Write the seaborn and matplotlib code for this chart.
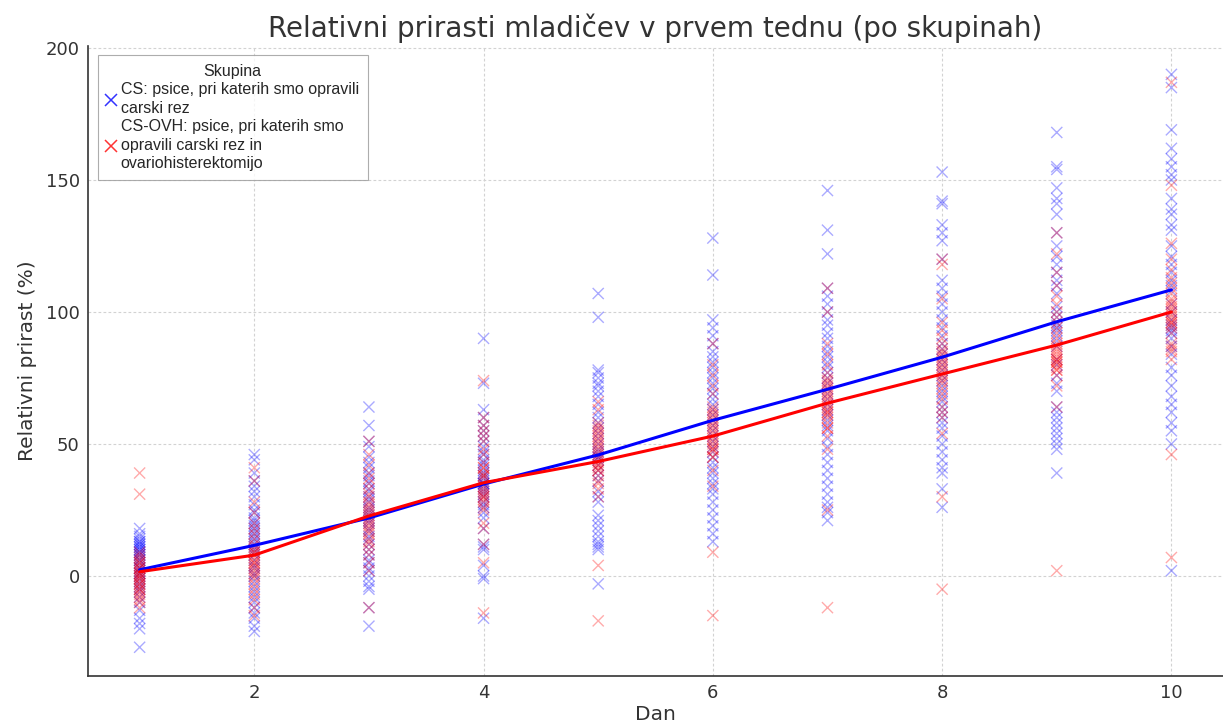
import matplotlib
matplotlib.use("Agg")
import matplotlib.pyplot as plt
from matplotlib.lines import Line2D
import seaborn as sns
import pandas as pd

# Relative weight gain (%) per day, group CS
cs_d1 = [18, 16, 15, 14, 13, 13, 12, 12, 11, 11, 10, 10, 9, 9, 8, 8, 7, 6, 6, 5,
         4, 3, 3, 2, 1, 1, 0, -1, -2, -3, -4, -5, -6, -8, -10, -13, -16, -18, -20, -27]
cs_d2 = [46, 44, 39, 36, 34, 32, 30, 27, 25, 24, 22, 21, 20, 19, 18, 17, 16, 15, 14, 13,
         12, 11, 10, 9, 8, 6, 4, 3, 1, 0, -2, -4, -6, -8, -10, -12, -14, -16, -19, -21]
cs_d3 = [64, 57, 51, 49, 45, 43, 41, 39, 38, 36, 35, 33, 32, 30, 29, 28, 26, 25, 24, 23,
         22, 21, 20, 18, 17, 15, 14, 12, 10, 8, 6, 5, 3, 2, 0, -2, -4, -5, -12, -19]
cs_d4 = [90, 73, 63, 60, 57, 55, 53, 51, 49, 47, 46, 44, 43, 42, 40, 39, 38, 37, 36, 35,
         35, 35, 34, 33, 32, 31, 30, 28, 27, 26, 24, 22, 18, 12, 10, 11, 4, 0, -1, -16]
cs_d5 = [107, 98, 78, 77, 75, 73, 72, 70, 68, 65, 62, 60, 58, 56, 54, 52, 50, 48, 47, 45,
         46, 45, 44, 42, 40, 38, 36, 32, 30, 28, 23, 21, 19, 17, 15, 13, 12, 11, 10, -3]
cs_d6 = [128, 114, 97, 94, 91, 88, 85, 83, 81, 79, 77, 75, 73, 71, 69, 67, 65, 63, 61, 59,
         57, 55, 53, 51, 49, 47, 45, 43, 41, 39, 37, 35, 33, 31, 28, 25, 22, 19, 16, 13]
cs_d7 = [146, 131, 122, 109, 106, 103, 100, 97, 95, 92, 90, 87, 85, 83, 81, 79, 77, 75, 73, 71,
         69, 67, 65, 63, 61, 59, 57, 55, 52, 49, 46, 43, 40, 37, 34, 31, 28, 26, 24, 21]
cs_d8 = [153, 142, 141, 133, 130, 127, 120, 112, 109, 106, 103, 100, 97, 94, 91, 88, 86, 84, 82, 80,
         78, 76, 74, 72, 70, 68, 66, 64, 62, 60, 58, 56, 53, 50, 47, 44, 41, 39, 33, 26]
cs_d9 = [168, 155, 154, 147, 143, 141, 137, 130, 125, 121, 118, 115, 112, 110, 107, 102, 100, 98, 96, 94,
         95, 93, 91, 89, 87, 82, 80, 76, 73, 70, 64, 62, 60, 58, 56, 54, 52, 50, 48, 39]
cs_d10 = [190, 185, 169, 162, 158, 155, 152, 150, 143, 139, 137, 133, 131, 125, 121, 118, 115, 112, 110, 108,
          103, 100, 97, 95, 93, 94, 92, 90, 87, 84, 79, 76, 72, 68, 65, 62, 58, 55, 50, 2]

# Relative weight gain (%) per day, group CS-OVH
ovh_d1 = [39, 31, 9, 8, 7, 6, 5, 5, 4, 3, 3, 2, 1, 1, 0, 0, -1, -1, -2, -3,
          -3, -4, -5, -5, -6, -7, -8, -9, -10, -12]
ovh_d2 = [41, 36, 28, 24, 20, 18, 16, 14, 12, 11, 10, 9, 9, 8, 7, 6, 5, 5, 4, 3,
          2, 1, 0, -1, -3, -5, -7, -9, -12, -15]
ovh_d3 = [51, 46, 42, 39, 37, 35, 33, 31, 30, 28, 27, 26, 25, 24, 23, 22, 21, 20, 19, 18,
          17, 16, 14, 13, 12, 10, 8, 5, 2, -12]
ovh_d4 = [74, 60, 57, 55, 53, 51, 48, 46, 43, 41, 41, 38, 39, 38, 37, 34, 33, 32, 31, 30,
          30, 29, 28, 26, 25, 20, 18, 12, 5, -14]
ovh_d5 = [66, 63, 58, 57, 56, 55, 54, 53, 52, 51, 50, 49, 48, 47, 46, 45, 44, 43, 42, 40,
          42, 41, 40, 38, 36, 35, 33, 30, 4, -17]
ovh_d6 = [88, 80, 76, 72, 69, 64, 63, 62, 61, 60, 59, 58, 57, 56, 55, 54, 53, 52, 51, 50,
          49, 48, 48, 47, 45, 45, 40, 34, 9, -15]
ovh_d7 = [109, 100, 88, 84, 80, 77, 75, 74, 73, 72, 71, 70, 69, 68, 67, 66, 65, 64, 63, 62,
          62, 61, 60, 58, 56, 56, 53, 48, 25, -12]
ovh_d8 = [120, 118, 105, 96, 93, 90, 88, 86, 85, 84, 83, 82, 81, 80, 79, 78, 77, 76, 75, 74,
          73, 71, 69, 67, 64, 62, 60, 54, 30, -5]
ovh_d9 = [130, 122, 115, 110, 106, 103, 100, 98, 96, 94, 92, 90, 88, 87, 86, 85, 84, 83, 82, 81,
          82, 81, 80, 79, 78, 78, 76, 72, 64, 2]
ovh_d10 = [187, 148, 126, 120, 116, 113, 111, 109, 107, 105, 104, 103, 102, 101, 100, 99, 98, 97, 96, 95,
           96, 94, 92, 87, 85, 88, 86, 82, 46, 7]

days = [1, 2, 3, 4, 5, 6, 7, 8, 9, 10]
groups = ["CS", "CS-OVH"]
group_labels = [
    "CS: psice, pri katerih smo opravili\ncarski rez",
    "CS-OVH: psice, pri katerih smo\nopravili carski rez in\novariohisterektomijo",
]
colors = {"CS": "blue", "CS-OVH": "red"}

cs_all = [cs_d1, cs_d2, cs_d3, cs_d4, cs_d5, cs_d6, cs_d7, cs_d8, cs_d9, cs_d10]
ovh_all = [ovh_d1, ovh_d2, ovh_d3, ovh_d4, ovh_d5, ovh_d6, ovh_d7, ovh_d8, ovh_d9, ovh_d10]

rows = []
for g, per_day in zip(groups, [cs_all, ovh_all]):
    for d, vals in zip(days, per_day):
        for v in vals:
            rows.append({"Dan": d, "Prirast": v, "Skupina": g})
df = pd.DataFrame(rows)

sns.set_style("white")
plt.rcParams["font.family"] = ["DejaVu Sans"]

fig = plt.figure(figsize=(12.23, 7.26), dpi=100)
ax = fig.add_axes([0.072, 0.069, 0.928, 0.868])

sns.scatterplot(data=df, x="Dan", y="Prirast", hue="Skupina", palette=colors,
                marker="x", s=64, linewidth=1.0, alpha=0.33, legend=False, ax=ax)
sns.lineplot(data=df, x="Dan", y="Prirast", hue="Skupina", palette=colors,
             estimator="mean", errorbar=None, linewidth=2.2, legend=False, ax=ax)

ax.set_xlim(0.55, 10.45)
ax.set_xticks([2, 4, 6, 8, 10])
ax.set_yticks([0, 50, 100, 150, 200])
ax.grid(True, color="#d2d2d2", linestyle=(0, (2.5, 2)), linewidth=0.8)
ax.set_axisbelow(True)
for side in ["top", "right"]:
    ax.spines[side].set_visible(False)
for side in ["left", "bottom"]:
    ax.spines[side].set_color("#333333")
    ax.spines[side].set_linewidth(1.2)
ax.tick_params(axis="both", direction="in", length=5, width=1, color="#333333",
               labelsize=13, labelcolor="#333333", pad=6)

ax.set_title("Relativni prirasti mladičev v prvem tednu (po skupinah)",
             fontsize=20, color="#333333", pad=6)
ax.set_xlabel("Dan", fontsize=14.5, color="#333333", labelpad=2)
ax.set_ylabel("Relativni prirast (%)", fontsize=14.5, color="#333333", labelpad=6)

handles = [Line2D([], [], linestyle="none", marker="x", markersize=8,
                  markeredgewidth=1.1, color=colors[g], alpha=0.8) for g in groups]
leg = ax.legend(handles, group_labels, title="Skupina", loc="upper left",
                prop={"family": "Liberation Sans", "size": 11.5},
                title_fontproperties={"family": "Liberation Sans", "size": 11.5},
                handlelength=0.6, handletextpad=0.3, borderaxespad=0.6,
                labelspacing=0.2, fancybox=False, frameon=True,
                edgecolor="#999999", borderpad=0.55)
for t in leg.get_texts():
    t.set_linespacing(1.3)
leg.get_frame().set_linewidth(0.8)

fig.savefig("out.png", dpi=100)
